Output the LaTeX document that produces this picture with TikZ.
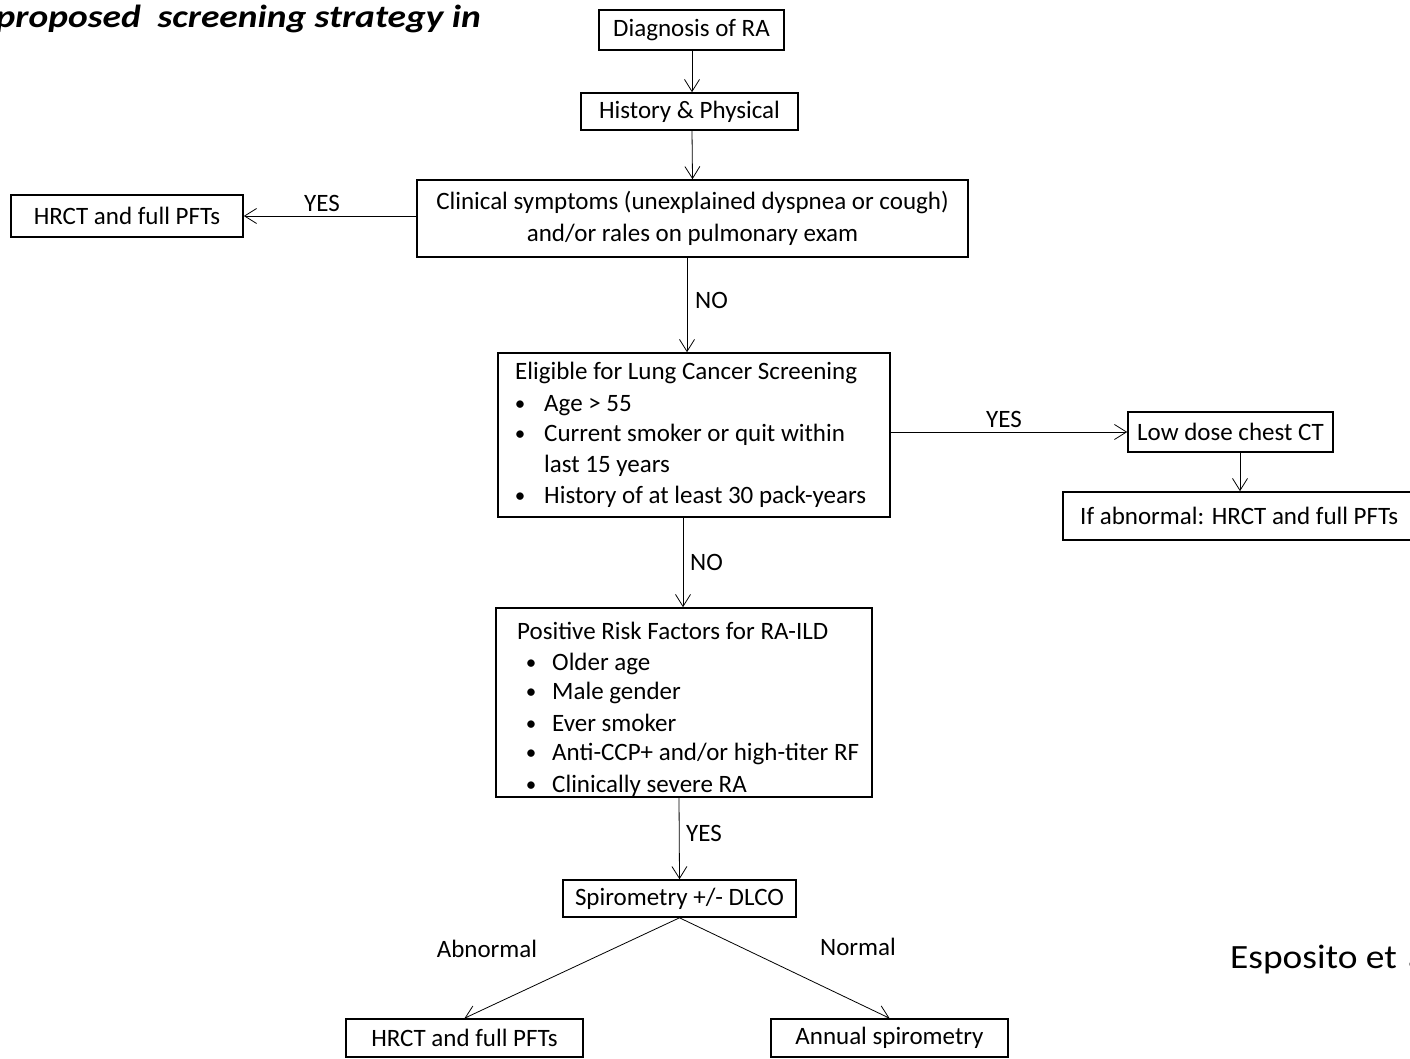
\documentclass[tikz,border=0pt]{standalone}
\usepackage{fontspec}
\setmainfont{Carlito}
\usetikzlibrary{arrows.meta}
\newcommand{\fsz}{\fontsize{25}{32}\selectfont}
\tikzset{
  box/.style={draw, line width=1.6pt, inner sep=0pt, font=\fsz, align=center},
  arr/.style={line width=0.8pt, -{Straight Barb[length=12pt,width=15pt,line width=0.8pt]}},
  txt/.style={font=\fsz, inner sep=0pt, anchor=base west},
  lbl/.style={font=\fsz, inner sep=0pt},
  bul/.style={font=\fontsize{21}{25}\selectfont, inner sep=0pt, anchor=base}
}
\begin{document}
\begin{tikzpicture}[x=1pt,y=-1pt]
\useasboundingbox (0,0) rectangle (1410,1059);
% title
\node[font=\fontsize{32}{38}\selectfont\bfseries\itshape\addfontfeature{FakeStretch=1.17}, inner sep=0pt, anchor=base east] (title) at (481,28) {proposed\ \ screening strategy in};
% boxes
\node[box, minimum width=185pt, minimum height=40pt] (diag) at (691.5,30) {Diagnosis of RA};
\node[box, minimum width=217pt, minimum height=37pt] (hist) at (689.5,111.5) {History \& Physical};
\node[box, minimum width=551pt, minimum height=77pt] (clin) at (692.5,218.5) {Clinical symptoms (unexplained dyspnea or cough)\\and/or rales on pulmonary exam};
\node[box, minimum width=232pt, minimum height=42pt] (hrcta) at (127,216) {HRCT and full PFTs};
\node[box, minimum width=392pt, minimum height=164pt] (elig) at (694,435) {};
\node[box, minimum width=205pt, minimum height=40pt] (low) at (1230.5,432) {Low dose chest CT};
\node[box, minimum width=357pt, minimum height=48pt] (ifab) at (1241.5,516) {};
\node[box, minimum width=376pt, minimum height=189pt] (pos) at (684,702.5) {};
\node[box, minimum width=233pt, minimum height=37pt] (spiro) at (679.5,898.5) {Spirometry +/- DLCO};
\node[box, minimum width=237pt, minimum height=38pt] (hrctb) at (464.5,1038) {HRCT and full PFTs};
\node[box, minimum width=237pt, minimum height=38pt] (annual) at (889.5,1038) {Annual spirometry};
% eligible text
\node[txt] (e0) at (515,379) {Eligible for Lung Cancer Screening};
\node[bul] (eb1) at (520,410) {\textbullet};
\node[txt] (e1) at (544,411) {Age > 55};
\node[bul] (eb2) at (520,440) {\textbullet};
\node[txt] (e2) at (544,441) {Current smoker or quit within};
\node[txt] (e3) at (544,472) {last 15 years};
\node[bul] (eb4) at (520,502) {\textbullet};
\node[txt] (e4) at (544,503) {History of at least 30 pack-years};
% if abnormal text
\node[txt] (ift) at (1080,524) {If abnormal: HRCT and full PFTs};
% positive text
\node[txt] (p0) at (517,639) {Positive Risk Factors for RA-ILD};
\node[bul] (pb1) at (531,669) {\textbullet};
\node[txt] (p1) at (552,670) {Older age};
\node[bul] (pb2) at (531,698) {\textbullet};
\node[txt] (p2) at (552,699) {Male gender};
\node[bul] (pb3) at (531,730) {\textbullet};
\node[txt] (p3) at (552,731) {Ever smoker};
\node[bul] (pb4) at (531,759) {\textbullet};
\node[txt] (p4) at (552,760) {Anti-CCP+ and/or high-titer RF};
\node[bul] (pb5) at (531,791) {\textbullet};
\node[txt] (p5) at (552,792) {Clinically severe RA};
% connectors
\draw[arr] ([xshift=0.5pt]diag.south) -- ([xshift=2.5pt]hist.north);
\draw[arr] ([xshift=2.5pt]hist.south) -- ([xshift=0pt]clin.north);
\draw[arr] (clin.west |- hrcta.east) -- (hrcta.east);
\draw[arr] ([xshift=-5.5pt]clin.south) -- ([xshift=-7pt]elig.north);
\draw[arr] (elig.east |- low.west) -- (low.west);
\draw[arr] ([xshift=9.5pt]low.south) -- ([xshift=9.5pt]low.south |- ifab.north);
\draw[arr] ([xshift=-11pt]elig.south) -- ([xshift=-1pt]pos.north);
\draw[arr] ([xshift=-5pt]pos.south) -- (spiro.north);
\draw[arr] (spiro.south) -- (hrctb.north);
\draw[arr] (spiro.south) -- (annual.north);
% labels
\node[lbl] (yes1) at (322,203) {YES};
\node[txt] (no1) at (695,308) {NO};
\node[lbl] (yes2) at (1004,419) {YES};
\node[txt] (no2) at (690,570) {NO};
\node[txt] (yes3) at (686,841) {YES};
\node[lbl] (abn) at (487,949) {Abnormal};
\node[lbl] (nor) at (858,947) {Normal};
\node[font=\fontsize{34}{40}\selectfont\addfontfeature{FakeStretch=1.1}, inner sep=0pt, anchor=base west] (esp) at (1230,968) {Esposito et\,\,al.};
\end{tikzpicture}
\end{document}
